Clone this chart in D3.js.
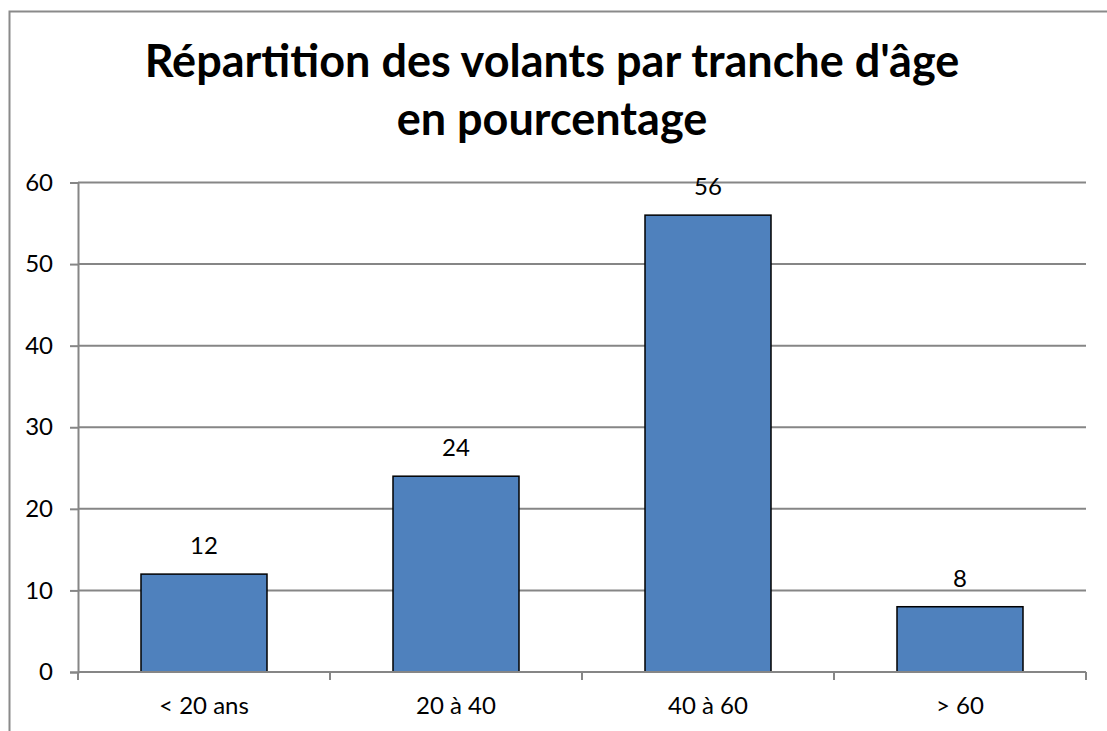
<!DOCTYPE html>
<html>
<head>
<meta charset="utf-8">
<script src="https://cdn.jsdelivr.net/npm/d3@7"></script>
<style>
  html, body { margin: 0; padding: 0; background: #fff; }
  svg { display: block; }
</style>
</head>
<body>
<svg id="chart" width="1107" height="731"></svg>
<script>
const categories = ["< 20 ans", "20 à 40", "40 à 60", "> 60"];
const values = [12, 24, 56, 8];
const yTicks = [0, 10, 20, 30, 40, 50, 60];
const titleLines = ["Répartition des volants par tranche d'âge", "en pourcentage"];

const svg = d3.select("#chart");
const W = 1107, H = 731;
const m = { left: 78, right: 1086, top: 182.5, bottom: 672 };
const font = "Lato, 'Open Sans', sans-serif";

svg.append("rect").attr("x", 0).attr("y", 0).attr("width", W).attr("height", H).attr("fill", "#fff");
// outer border
svg.append("rect").attr("x", 9.5).attr("y", 11.5).attr("width", 1200).attr("height", 800)
  .attr("fill", "none").attr("stroke", "#8a8a8a").attr("stroke-width", 2);

// title
svg.append("text").attr("x", 552).attr("text-anchor", "middle")
  .attr("font-family", font).attr("font-weight", "bold").attr("font-size", 45).attr("fill", "#000")
  .selectAll("tspan").data(titleLines).join("tspan")
  .attr("x", 552).attr("y", (d, i) => 77 + i * 58).text(d => d);

const x = d3.scaleBand().domain(categories).range([m.left, m.right]).paddingInner(0.5).paddingOuter(0.25);
const y = d3.scaleLinear().domain([0, 60]).range([m.bottom, m.top]);

// gridlines + y axis
const yAxis = d3.axisLeft(y).tickValues(yTicks).tickSize(8).tickPadding(17).tickFormat(d3.format("d"));
const gy = svg.append("g").attr("transform", `translate(${m.left},0)`).call(yAxis);
gy.select(".domain").attr("stroke", "#868686").attr("stroke-width", 2);
gy.selectAll(".tick line").attr("stroke", "#868686").attr("stroke-width", 2);
gy.selectAll(".tick text").attr("font-family", font).attr("font-size", 24).attr("fill", "#000");

svg.append("g").selectAll("line").data(yTicks.filter(d => d > 0)).join("line")
  .attr("x1", m.left).attr("x2", m.right)
  .attr("y1", d => y(d)).attr("y2", d => y(d))
  .attr("stroke", "#868686").attr("stroke-width", 2);

// bars
svg.append("g").selectAll("rect").data(values).join("rect")
  .attr("x", (d, i) => x(categories[i]))
  .attr("y", d => y(d))
  .attr("width", x.bandwidth())
  .attr("height", d => y(0) - y(d))
  .attr("fill", "#4F81BD").attr("stroke", "#000").attr("stroke-width", 1.5);

// bar value labels
svg.append("g").selectAll("text").data(values).join("text")
  .attr("x", (d, i) => x(categories[i]) + x.bandwidth() / 2)
  .attr("y", d => y(d) - 20)
  .attr("text-anchor", "middle")
  .attr("font-family", font).attr("font-size", 24).attr("fill", "#000")
  .text(d => d);

// x axis
const step = x.step();
const boundaries = d3.range(categories.length + 1).map(i => m.left + i * step);
svg.append("line").attr("x1", m.left).attr("x2", m.right).attr("y1", y(0)).attr("y2", y(0))
  .attr("stroke", "#868686").attr("stroke-width", 2);
svg.append("g").selectAll("line").data(boundaries).join("line")
  .attr("x1", d => d).attr("x2", d => d).attr("y1", y(0)).attr("y2", y(0) + 8)
  .attr("stroke", "#868686").attr("stroke-width", 2);
svg.append("g").selectAll("text").data(categories).join("text")
  .attr("x", d => x(d) + x.bandwidth() / 2)
  .attr("y", 714)
  .attr("text-anchor", "middle")
  .attr("font-family", font).attr("font-size", 24).attr("fill", "#000")
  .text(d => d);
</script>
</body>
</html>
